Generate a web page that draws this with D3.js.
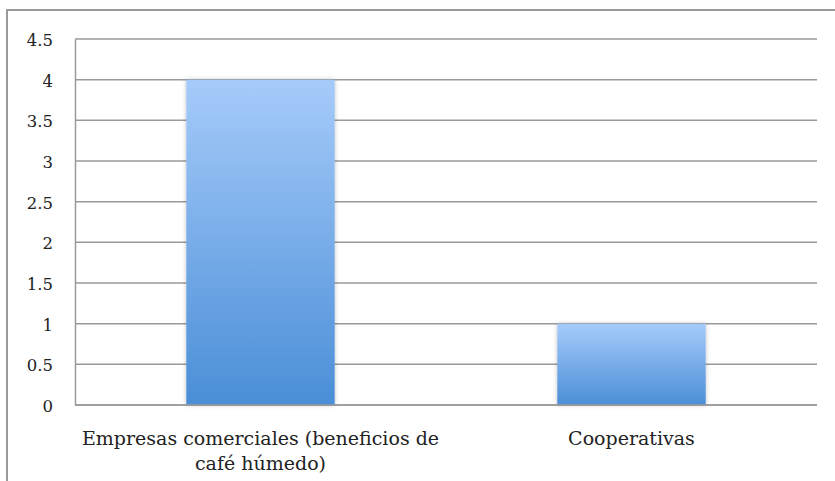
<!DOCTYPE html>
<html>
<head>
<meta charset="utf-8">
<script src="https://cdn.jsdelivr.net/npm/d3@7"></script>
<style>
  body { margin: 0; background: #fff; }
  svg { display: block; }
  .tick text { font-family: "DejaVu Serif", serif; font-size: 16.5px; fill: #222; }
  .cat-label { font-family: "DejaVu Serif", serif; font-size: 19px; fill: #222; }
</style>
</head>
<body>
<div id="chart"></div>
<script>
// data
var categories = ["Empresas comerciales (beneficios de café húmedo)", "Cooperativas"];
var categoryLines = [["Empresas comerciales (beneficios de", "café húmedo)"], ["Cooperativas"]];
var values = [4, 1];
var yTicks = [0, 0.5, 1, 1.5, 2, 2.5, 3, 3.5, 4, 4.5];

// dimensions
var W = 835, H = 481;
var margin = {top: 39, right: 18, bottom: 76, left: 75};
var width = W - margin.left - margin.right;
var height = H - margin.top - margin.bottom;

var root = d3.select("#chart")
    .append("svg")
    .attr("width", W)
    .attr("height", H);

// gradient + shadow
var defs = root.append("defs");
var grad = defs.append("linearGradient")
    .attr("id", "barGrad")
    .attr("x1", 0).attr("y1", 0).attr("x2", 0).attr("y2", 1);
grad.append("stop").attr("offset", "0%").attr("stop-color", "#a6cbfa");
grad.append("stop").attr("offset", "100%").attr("stop-color", "#4a8ed7");

var shadow = defs.append("filter")
    .attr("id", "shadow")
    .attr("x", "-10%").attr("y", "-10%").attr("width", "120%").attr("height", "120%");
shadow.append("feDropShadow")
    .attr("dx", 0).attr("dy", 0)
    .attr("stdDeviation", 2)
    .attr("flood-color", "#000")
    .attr("flood-opacity", 0.25);

// outer frame (top and left edges)
root.append("path")
    .attr("d", "M7," + H + "V10H" + W)
    .attr("fill", "none")
    .attr("stroke", "#9a9a9a")
    .attr("stroke-width", 2);

var svg = root.append("g")
    .attr("transform", "translate(" + margin.left + "," + margin.top + ")");

// scales
var xScale = d3.scaleBand()
    .domain(categories)
    .range([0, width])
    .padding(0);

var yScale = d3.scaleLinear()
    .domain([0, 4.5])
    .range([height, 0]);

// gridlines
svg.append("g")
    .selectAll("line")
    .data(yTicks)
    .enter().append("line")
    .attr("x1", 0)
    .attr("x2", width)
    .attr("y1", d => yScale(d))
    .attr("y2", d => yScale(d))
    .attr("stroke", "#9a9a9a")
    .attr("stroke-width", 1.5);

// left axis
var yAxis = svg.append("g")
    .call(d3.axisLeft(yScale).tickValues(yTicks).tickSize(0).tickPadding(22).tickFormat(d3.format("")));
yAxis.select(".domain").attr("stroke", "#9a9a9a").attr("stroke-width", 1.5);
yAxis.selectAll(".tick text").attr("dy", "0.4em");

// bars
var barW = xScale.bandwidth() * 0.4;
svg.append("g")
    .selectAll("rect")
    .data(values)
    .enter().append("rect")
    .attr("x", (d, i) => xScale(categories[i]) + (xScale.bandwidth() - barW) / 2)
    .attr("width", barW)
    .attr("y", d => yScale(d))
    .attr("height", d => height - yScale(d))
    .attr("fill", "url(#barGrad)")
    .attr("filter", "url(#shadow)");

// baseline over bars
svg.append("line")
    .attr("x1", 0).attr("x2", width)
    .attr("y1", yScale(0)).attr("y2", yScale(0))
    .attr("stroke", "#9a9a9a")
    .attr("stroke-width", 1.5);

// category labels
var labels = svg.append("g")
    .selectAll("text")
    .data(categories)
    .enter().append("text")
    .attr("class", "cat-label")
    .attr("text-anchor", "middle")
    .attr("x", d => xScale(d) + xScale.bandwidth() / 2)
    .attr("y", height + 40);

labels.selectAll("tspan")
    .data((d, i) => categoryLines[i])
    .enter().append("tspan")
    .attr("x", function() { return d3.select(this.parentNode).attr("x"); })
    .attr("dy", (d, j) => j === 0 ? 0 : 25)
    .text(d => d);
</script>
</body>
</html>
